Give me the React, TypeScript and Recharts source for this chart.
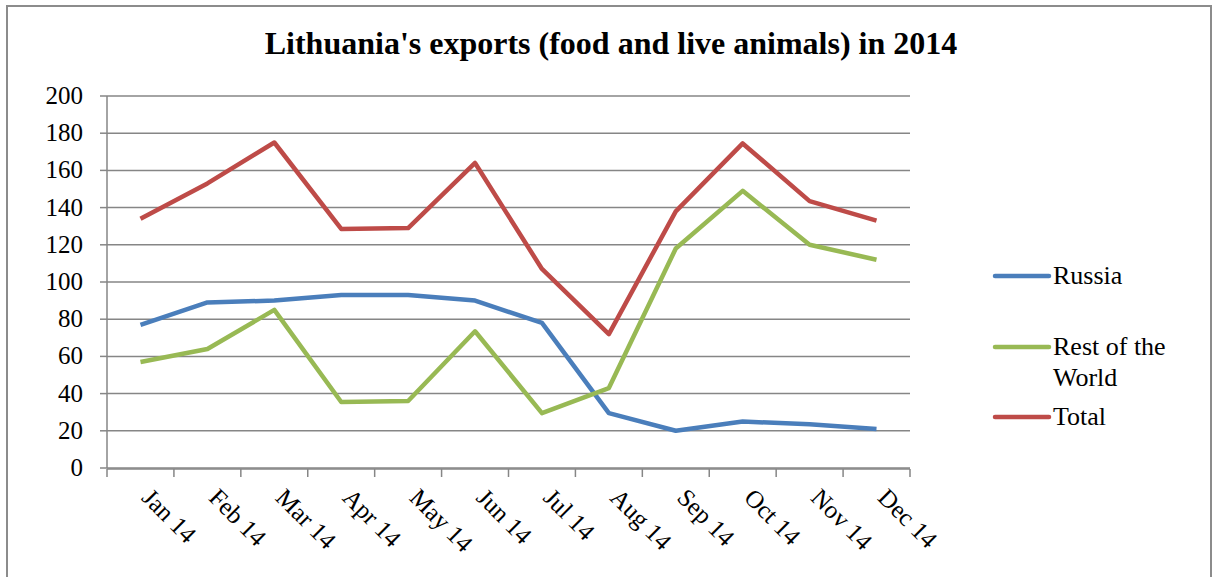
import React from "react";
import {
  CartesianGrid,
  Line,
  LineChart,
  XAxis,
  YAxis,
} from "recharts";

const months = [
  "Jan 14", "Feb 14", "Mar 14", "Apr 14", "May 14", "Jun 14",
  "Jul 14", "Aug 14", "Sep 14", "Oct 14", "Nov 14", "Dec 14",
];
const russia = [77, 89, 90, 93, 93, 90, 78, 29.5, 20, 25, 23.5, 21];
const restOfWorld = [57, 64, 85, 35.5, 36, 73.5, 29.5, 43, 118, 149, 120, 112];
const total = [134, 153, 175, 128.5, 129, 164, 107, 72, 138, 174.5, 143.5, 133];
const yTicks = [0, 20, 40, 60, 80, 100, 120, 140, 160, 180, 200];
const edgeTicks = [0, 1, 2, 3, 4, 5, 6, 7, 8, 9, 10, 11, 12];

const seriesNames = ["Russia", "Rest of the World", "Total"];
const seriesKeys = ["russia", "rest", "total"];
const seriesColors = ["#4a7ebb", "#98b954", "#be4b48"];

const data = months.map((m, i) => ({
  month: m,
  slot: i + 0.5,
  russia: russia[i],
  rest: restOfWorld[i],
  total: total[i],
}));

const FONT = "'Liberation Serif', 'Times New Roman', serif";
const GRID = "#868686";

function MonthTick({ x, y, payload }: any) {
  const ty = y + 31;
  return (
    <text
      x={x}
      y={ty}
      transform={`rotate(45 ${x} ${ty})`}
      textAnchor="start"
      fontFamily={FONT}
      fontSize={25}
      fill="#000"
    >
      {payload.value}
    </text>
  );
}

function ValueTick({ x, y, payload }: any) {
  return (
    <text x={x} y={y} dy={8} textAnchor="end" fontFamily={FONT} fontSize={25} fill="#000">
      {payload.value}
    </text>
  );
}

function EmptyTick() {
  return <g />;
}

function LegendBox() {
  const tops = [260, 331, 401];
  return (
    <>
      {seriesNames.map((name, i) => (
        <div
          key={name}
          style={{
            position: "absolute",
            left: 992,
            top: tops[i],
            display: "flex",
            fontFamily: FONT,
            fontSize: 26,
            lineHeight: "31px",
            color: "#000",
          }}
        >
          <svg width={61} height={31} style={{ flex: "none" }}>
            <line x1={3} y1={16} x2={57} y2={16} stroke={seriesColors[i]} strokeWidth={4.5} strokeLinecap="round" />
          </svg>
          <span style={{ width: 150 }}>{name}</span>
        </div>
      ))}
    </>
  );
}

export default function App() {
  return (
    <div style={{ position: "absolute", left: 0, top: 0, width: 1216, height: 577, overflow: "hidden", background: "#fff" }}>
      <div
        style={{
          position: "absolute",
          left: 6,
          top: 5,
          width: 1206,
          height: 640,
          border: "2px solid #8c8c8c",
          boxSizing: "border-box",
        }}
      />
      <div
        style={{
          position: "absolute",
          left: 0,
          top: 27,
          width: 1222,
          textAlign: "center",
          fontFamily: FONT,
          fontWeight: "bold",
          fontSize: 32,
          lineHeight: "32px",
          color: "#000",
        }}
      >
        Lithuania's exports (food and live animals) in 2014
      </div>
      <div style={{ position: "absolute", left: 0, top: 0 }}>
        <LineChart
          width={1216}
          height={577}
          data={data}
          margin={{ top: 96, right: 306, bottom: 107, left: 0 }}
          style={{ fontFamily: FONT }}
        >
          <CartesianGrid vertical={false} stroke={GRID} strokeWidth={1.5} />
          <XAxis
            xAxisId="cat"
            dataKey="month"
            padding={{ left: 33.5, right: 33.5 }}
            axisLine={false}
            tickLine={false}
            tickSize={0}
            tickMargin={0}
            interval={0}
            height={1}
            tick={<MonthTick />}
          />
          <XAxis
            xAxisId="edges"
            dataKey="slot"
            type="number"
            domain={[0, 12]}
            ticks={edgeTicks}
            interval={0}
            allowDataOverflow
            tick={<EmptyTick />}
            tickLine={{ stroke: GRID, strokeWidth: 1.5 }}
            tickSize={8}
            height={1}
            stroke={GRID}
            strokeWidth={1.5}
          />
          <YAxis
            domain={[0, 200]}
            ticks={yTicks}
            width={107}
            tickSize={7}
            tickMargin={17}
            stroke={GRID}
            strokeWidth={1.5}
            tick={<ValueTick />}
          />
          {seriesKeys.map((k, i) => (
            <Line
              key={k}
              xAxisId="cat"
              name={seriesNames[i]}
              dataKey={k}
              stroke={seriesColors[i]}
              strokeWidth={4.5}
              dot={false}
              strokeLinejoin="round"
              isAnimationActive={false}
            />
          ))}
        </LineChart>
      </div>
      <LegendBox />
    </div>
  );
}
